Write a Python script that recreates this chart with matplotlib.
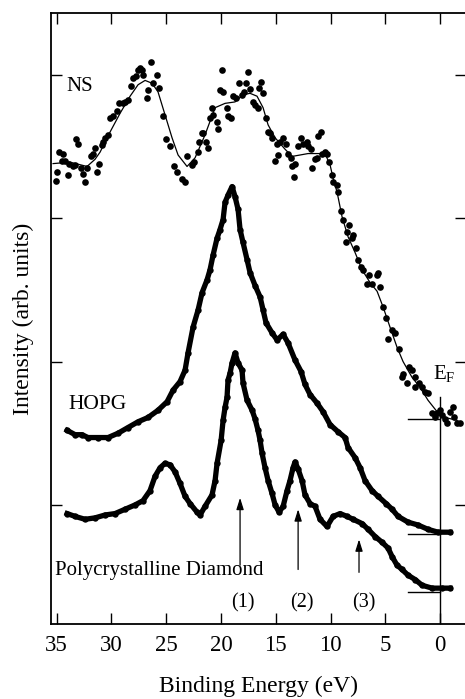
import matplotlib
matplotlib.use("Agg")
import matplotlib.pyplot as plt

plt.rcParams['font.family'] = ['Liberation Serif', 'DejaVu Serif']
plt.rcParams['mathtext.fontset'] = 'custom'
plt.rcParams['mathtext.rm'] = 'Liberation Serif'

# NS: puntos medidos y curva suavizada
ns_e = [35.06, 34.97, 34.79, 34.51, 34.42, 34.24, 33.96, 33.87, 33.51, 33.32, 33.23, 33.05,
        32.78, 32.59, 32.41, 32.23, 31.86, 31.68, 31.50, 31.32, 31.13, 30.86, 30.77, 30.59,
        30.31, 30.13, 29.86, 29.49, 29.31, 28.94, 28.76, 28.49, 28.21, 28.03, 27.76, 27.57,
        27.39, 27.21, 27.12, 26.75, 26.66, 26.39, 26.20, 25.84, 25.66, 25.29, 25.02, 24.65,
        24.29, 24.01, 23.56, 23.28, 23.10, 22.64, 22.46, 22.09, 22.00, 21.73, 21.64, 21.36,
        21.18, 21.00, 20.82, 20.73, 20.36, 20.27, 20.09, 19.90, 19.81, 19.45, 19.36, 19.08,
        18.90, 18.63, 18.35, 18.08, 17.89, 17.71, 17.53, 17.35, 17.07, 16.89, 16.62, 16.53,
        16.34, 16.16, 15.89, 15.70, 15.52, 15.34, 15.06, 14.88, 14.79, 14.61, 14.33, 14.06,
        13.88, 13.60, 13.51, 13.33, 13.24, 12.96, 12.69, 12.51, 12.14, 12.05, 11.78, 11.69,
        11.41, 11.23, 11.14, 10.86, 10.77, 10.50, 10.32, 10.13, 9.86, 9.77, 9.40, 9.31,
        9.04, 8.86, 8.58, 8.49, 8.31, 8.03, 7.94, 7.67, 7.49, 7.21, 7.03, 6.66, 6.48, 6.21,
        5.75, 5.66, 5.48, 5.20, 4.93, 4.75, 4.38, 4.11, 3.74, 3.47, 3.38, 3.01, 2.83, 2.56,
        2.28, 2.28, 1.92, 1.64, 1.37, 1.10, 0.73, 0.46, 0.27, 0.00, -0.18, -0.46, -0.64,
        -0.91, -1.19, -1.28, -1.55, -1.83]
ns_i = [326, 332, 346, 340, 345, 340, 330, 338, 336, 337, 355, 352,
        335, 331, 325, 335, 343, 345, 349, 332, 338, 351, 353, 356,
        358, 370, 371, 375, 380, 380, 381, 382, 392, 398, 399, 403,
        405, 403, 400, 384, 389, 409, 394, 400, 391, 371, 355, 350,
        336, 332, 327, 325, 343, 337, 339, 346, 353, 359, 359, 353,
        349, 370, 377, 372, 367, 362, 389, 403, 388, 377, 371, 370,
        385, 384, 394, 386, 388, 394, 402, 390, 381, 379, 377, 391,
        395, 387, 370, 360, 359, 356, 340, 352, 344, 353, 356, 352,
        345, 342, 336, 329, 338, 350, 356, 352, 353, 350, 348, 335,
        341, 342, 357, 360, 345, 346, 345, 339, 330, 325, 323, 318,
        305, 299, 283, 290, 295, 286, 288, 279, 271, 266, 264, 254, 260, 254,
        260, 262, 252, 238, 230, 216, 222, 220, 209, 189, 191, 185, 196, 194,
        189, 182, 185, 182, 179, 178, 164, 161, 164, 166, 163, 160, 157,
        165, 168, 161, 157, 157]

ns_fit_e = [35.33, 33.78, 32.23, 31.50, 31.04, 30.13, 29.22, 28.30, 27.57, 26.93, 26.29,
            25.75, 25.11, 24.47, 23.92, 23.10, 22.37, 21.46, 20.54, 19.63, 18.72, 17.99,
            17.35, 16.71, 16.16, 15.70, 15.06, 14.15, 13.51, 12.78, 12.05, 11.14, 10.50,
            10.04, 9.77, 9.40, 8.95, 8.40, 7.76, 7.12, 6.39, 5.75, 5.20, 4.57, 3.93, 3.38,
            2.56, 1.83, 1.10, 0.27, -0.46, -1.55]
ns_fit_i = [338, 339, 336, 341, 346, 360, 373, 385, 393, 396, 394,
            388, 372, 356, 344, 336, 342, 358, 377, 380, 381, 386,
            387, 385, 377, 365, 356, 348, 343, 344, 345, 345, 345,
            337, 328, 318, 301, 287, 276, 264, 255, 249, 238, 224, 210, 200,
            189, 182, 173, 165, 161, 159]

# HOPG
hopg_e = [34.05, 33.32, 32.69, 32.14, 31.22, 30.31, 29.40, 28.49, 27.57, 26.66, 25.75,
          24.92, 24.38, 23.74, 23.28, 23.01, 22.55, 22.09, 21.73, 21.27, 21.00, 20.73,
          20.36, 20.09, 19.81, 19.63, 19.36, 18.99, 18.72, 18.44, 18.26, 17.99, 17.62,
          17.35, 16.89, 16.43, 16.16, 15.89, 15.34, 14.88, 14.33, 13.88, 13.24, 12.69,
          12.33, 11.87, 11.23, 10.68, 10.04, 9.31, 8.67, 8.40, 7.76, 7.30, 6.85, 6.21,
          5.66, 4.93, 4.38, 3.83, 2.92, 2.01, 1.10, 0.18, -0.91]
hopg_i = [152, 149, 149, 147, 147, 147, 150, 154, 158, 161, 166,
          172, 180, 186, 194, 206, 224, 236, 248, 257, 264, 274,
          286, 292, 299, 311, 316, 322, 315, 306, 292, 283, 271,
          262, 253, 245, 236, 227, 220, 215, 219, 213, 201, 193,
          184, 177, 171, 165, 156, 151, 147, 140, 133, 126, 117, 110,
          106, 101, 97, 92, 88, 86, 83, 81, 81]

# Diamante policristalino
diam_e = [34.05, 33.32, 32.41, 31.50, 30.59, 29.67, 28.76, 27.85, 27.12, 26.48, 26.02,
          25.56, 25.11, 24.65, 24.19, 23.74, 23.28, 22.83, 22.19, 21.91, 21.46, 20.82,
          20.54, 20.36, 19.99, 19.81, 19.63, 19.45, 19.36, 19.17, 18.99, 18.72, 18.44,
          18.08, 17.99, 17.62, 17.16, 16.89, 16.62, 16.43, 16.25, 15.98, 15.70, 15.34,
          15.06, 14.70, 14.33, 13.97, 13.70, 13.42, 13.24, 12.96, 12.60, 12.33, 11.87,
          11.41, 10.96, 10.32, 9.77, 9.13, 8.49, 7.94, 7.12, 6.57, 5.93, 5.30, 4.75,
          4.38, 3.93, 3.47, 2.92, 2.28, 1.64, 0.73, -0.18, -0.91]
diam_i = [94, 92, 90, 91, 93, 94, 97, 100, 103, 110, 120,
          126, 129, 128, 123, 115, 106, 101, 95, 93, 99, 107,
          117, 129, 145, 159, 168, 175, 187, 192, 199, 206, 199,
          194, 185, 173, 166, 160, 152, 145, 136, 126, 117, 108,
          100, 95, 99, 110, 117, 126, 130, 125, 117, 107, 101,
          99, 90, 85, 92, 94, 92, 90, 87, 83, 78, 74, 70,
          64, 58, 55, 51, 48, 44, 42, 42, 42]

# lineas base a la derecha (nivel de fondo de cada espectro)
base_levels = [160, 80, 39]
base_start, base_end = 2.92, 0.0

# flechas de los picos (1), (2), (3)
arrow_e = [18.26, 12.96, 7.40]
arrow_tail = [58, 55, 53]
arrow_tip = [105, 97, 76]
arrow_labels = ['(1)', '(2)', '(3)']
label_e = [17.99, 12.60, 6.94]

fig = plt.figure(figsize=(4.65, 6.99), dpi=100)
ax = fig.add_axes([0.1097, 0.1073, 0.8925, 0.8741])

ax.plot(ns_e, ns_i, 'o', color='black', ms=4.8, mec='none')
ax.plot(ns_fit_e, ns_fit_i, '-', color='black', lw=0.9)
ax.plot(hopg_e, hopg_i, '-o', color='black', lw=3.8, ms=4.6, mec='none')
ax.plot(diam_e, diam_i, '-o', color='black', lw=3.8, ms=4.6, mec='none')

for lvl in base_levels:
    ax.plot([base_start, base_end], [lvl, lvl], color='black', lw=1.0)
ax.plot([0, 0], [17, 175], color='black', lw=1.0)

for e, t0, t1 in zip(arrow_e, arrow_tail, arrow_tip):
    ax.annotate('', xy=(e, t1), xytext=(e, t0),
                arrowprops=dict(arrowstyle='-|>,head_length=0.7,head_width=0.22',
                                color='black', lw=0.9, shrinkA=0, shrinkB=0))
for e, lab in zip(label_e, arrow_labels):
    ax.text(e, 32, lab, ha='center', va='center', fontsize=14.5)

ax.text(34.1, 392, 'NS', ha='left', va='center', fontsize=15)
ax.text(33.96, 170, 'HOPG', ha='left', va='center', fontsize=15.5)
ax.text(35.15, 54, 'Polycrystalline Diamond', ha='left', va='center', fontsize=15)
ax.text(0.64, 191, r'E$_{\rm F}$', ha='left', va='center', fontsize=15)

ax.set_xlim(35.52, -2.37)
ax.set_ylim(17, 443)
ax.set_xticks([35, 30, 25, 20, 15, 10, 5, 0])
ax.set_yticks([100, 200, 300, 400])
ax.set_yticklabels([])
ax.tick_params(direction='in', length=8, width=1.0, top=True, right=True,
               labelsize=16.5, pad=8)
for sp in ax.spines.values():
    sp.set_linewidth(1.3)

ax.set_xlabel('Binding Energy (eV)', fontsize=17, labelpad=14)
ax.set_ylabel('Intensity (arb. units)', fontsize=17, labelpad=4)

plt.savefig('out.png', dpi=100)
